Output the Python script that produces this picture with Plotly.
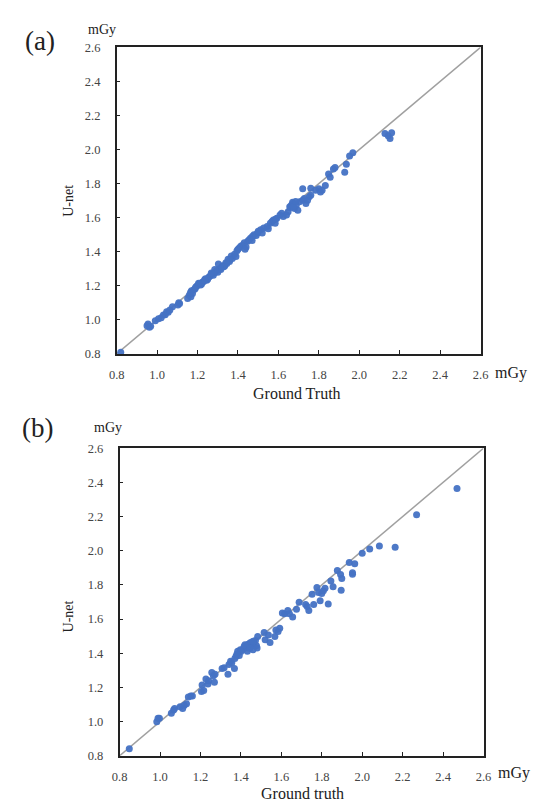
import plotly.graph_objects as go

W, H = 541, 809

# ---------------- data ----------------
a_x = [0.82, 0.955, 0.962, 0.968, 0.95,
       0.991, 1.007, 1.02, 1.031, 1.04, 1.047, 1.055, 1.063, 1.076, 1.103, 1.111, 1.107,
       1.151, 1.159, 1.167, 1.175, 1.17, 1.183, 1.191, 1.198, 1.207, 1.215, 1.223, 1.23, 1.239, 1.245,
       1.255, 1.262, 1.271, 1.278, 1.287, 1.295, 1.303, 1.31, 1.319, 1.325, 1.335, 1.34, 1.351, 1.358,
       1.367, 1.372, 1.383, 1.39, 1.4, 1.407, 1.395, 1.36, 1.345, 1.33, 1.315, 1.3, 1.285, 1.268,
       1.25, 1.235, 1.22, 1.205, 1.188, 1.165,
       1.415, 1.431, 1.448, 1.463, 1.472, 1.479, 1.496, 1.512, 1.52, 1.527, 1.544, 1.56, 1.568, 1.575,
       1.584, 1.592, 1.608, 1.616, 1.624, 1.64, 1.648, 1.656, 1.664, 1.672, 1.68, 1.688, 1.696, 1.704,
       1.72, 1.728, 1.736, 1.744, 1.752, 1.76, 1.784, 1.8, 1.808, 1.816, 1.832, 1.72, 1.76, 1.848,
       1.856, 1.872, 1.88, 1.928, 1.936, 1.952, 1.968,
       1.425, 1.44, 1.455, 1.47, 1.435, 1.49, 1.5, 1.55, 1.585, 1.66, 1.67, 1.675, 1.685,
       2.127, 2.143, 2.152, 2.16]
a_y = [0.81, 0.975, 0.956, 0.962, 0.965,
       0.994, 1.006, 1.012, 1.029, 1.03, 1.048, 1.045, 1.058, 1.077, 1.087, 1.096, 1.1,
       1.125, 1.144, 1.135, 1.154, 1.17, 1.178, 1.192, 1.2, 1.212, 1.205, 1.221, 1.225, 1.241, 1.232,
       1.25, 1.258, 1.269, 1.262, 1.279, 1.29, 1.327, 1.3, 1.308, 1.318, 1.318, 1.335, 1.356, 1.342,
       1.375, 1.36, 1.385, 1.372, 1.414, 1.423, 1.405, 1.352, 1.33, 1.312, 1.295, 1.28, 1.295, 1.275,
       1.238, 1.236, 1.21, 1.215, 1.183, 1.16,
       1.433, 1.452, 1.462, 1.481, 1.491, 1.5, 1.51, 1.529, 1.51, 1.539, 1.548, 1.567, 1.577, 1.586,
       1.567, 1.596, 1.615, 1.625, 1.606, 1.615, 1.635, 1.664, 1.673, 1.683, 1.654, 1.673, 1.644, 1.693,
       1.702, 1.712, 1.683, 1.702, 1.722, 1.731, 1.76, 1.769, 1.75, 1.76, 1.788, 1.769, 1.773, 1.856,
       1.837, 1.885, 1.895, 1.866, 1.914, 1.962, 1.981,
       1.44, 1.428, 1.47, 1.465, 1.415, 1.495, 1.52, 1.535, 1.59, 1.66, 1.69, 1.665, 1.695,
       2.094, 2.081, 2.065, 2.098]

b_x = [0.848, 0.984, 0.99, 0.997,
       1.056, 1.067, 1.072, 1.099, 1.112, 1.12, 1.131, 1.14, 1.152, 1.16,
       1.205, 1.208, 1.216, 1.227, 1.237, 1.24, 1.256, 1.264, 1.269, 1.272,
       1.307, 1.317, 1.336, 1.341, 1.349, 1.355, 1.368, 1.376, 1.384, 1.392, 1.397, 1.408, 1.416, 1.424,
       1.432, 1.44, 1.448, 1.456, 1.464, 1.472, 1.477, 1.48, 1.483, 1.432,
       1.4, 1.42, 1.445, 1.46, 1.37, 1.46, 1.38,
       1.515, 1.52, 1.536, 1.544, 1.568, 1.573, 1.584, 1.592,
       1.605, 1.616, 1.632, 1.64, 1.656, 1.675, 1.688, 1.72, 1.728, 1.736, 1.752, 1.76, 1.776, 1.784,
       1.792, 1.8, 1.808, 1.816, 1.832, 1.845, 1.856, 1.877, 1.893, 1.896, 1.899, 1.936, 1.952, 1.952,
       1.963, 2.0, 2.037, 2.085, 2.163, 2.269, 2.469]
b_y = [0.842, 1.0, 1.02, 1.02,
       1.049, 1.068, 1.077, 1.087, 1.077, 1.096, 1.104, 1.144, 1.15, 1.15,
       1.177, 1.215, 1.182, 1.249, 1.22, 1.24, 1.288, 1.269, 1.23, 1.278,
       1.311, 1.316, 1.278, 1.335, 1.354, 1.345, 1.311, 1.383, 1.412, 1.387, 1.421, 1.421, 1.44, 1.431,
       1.45, 1.456, 1.463, 1.444, 1.46, 1.475, 1.444, 1.431, 1.498, 1.412,
       1.41, 1.45, 1.43, 1.47, 1.37, 1.42, 1.395,
       1.521, 1.479, 1.507, 1.463, 1.498, 1.536, 1.527, 1.546,
       1.636, 1.632, 1.651, 1.632, 1.613, 1.657, 1.699, 1.685, 1.674, 1.651, 1.746, 1.685, 1.785, 1.756,
       1.708, 1.75, 1.766, 1.781, 1.689, 1.823, 1.789, 1.884, 1.861, 1.769, 1.838, 1.932, 1.871, 1.862,
       1.924, 1.985, 2.01, 2.028, 2.02, 2.211, 2.364]

axis_range = [0.8, 2.6]
tick_vals = [0.8, 1.0, 1.2, 1.4, 1.6, 1.8, 2.0, 2.2, 2.4, 2.6]
tick_text = ["0.8", "1.0", "1.2", "1.4", "1.6", "1.8", "2.0", "2.2", "2.4", "2.6"]

# ---------------- figure ----------------
SERIF = "Liberation Serif"
DOT = "#4472C4"


def px(x):
    return x / W


def py(y):
    return 1 - y / H


fig = go.Figure()

panels = [
    dict(x=a_x, y=a_y, xa="x", ya="y", dom_x=[px(112), px(487)], dom_y=[py(353), py(41)]),
    dict(x=b_x, y=b_y, xa="x2", ya="y2", dom_x=[px(115), px(490)], dom_y=[py(762), py(449)]),
]

for p in panels:
    fig.add_trace(go.Scatter(x=axis_range, y=axis_range, mode="lines",
                             line=dict(color="#a0a0a0", width=1.5),
                             xaxis=p["xa"], yaxis=p["ya"], showlegend=False, hoverinfo="skip"))
    fig.add_trace(go.Scatter(x=p["x"], y=p["y"], mode="markers",
                             marker=dict(color=DOT, size=7, opacity=0.95),
                             xaxis=p["xa"], yaxis=p["ya"], showlegend=False))

axis_common = dict(range=axis_range, tickvals=tick_vals, ticktext=tick_text,
                   ticks="inside", ticklen=4, tickwidth=1.2, tickcolor="#222",
                   showline=True, linecolor="#222", linewidth=1.6, mirror=True,
                   showgrid=False, zeroline=False,
                   tickfont=dict(family=SERIF, size=12.5, color="#444"))

fig.update_layout(
    width=W, height=H,
    margin=dict(l=0, r=0, t=0, b=0),
    paper_bgcolor="white", plot_bgcolor="white",
    xaxis=dict(domain=panels[0]["dom_x"], anchor="y", ticklabelstandoff=8, **axis_common),
    yaxis=dict(domain=panels[0]["dom_y"], anchor="x", ticklabelstandoff=12, **axis_common),
    xaxis2=dict(domain=panels[1]["dom_x"], anchor="y2", ticklabelstandoff=8, **axis_common),
    yaxis2=dict(domain=panels[1]["dom_y"], anchor="x2", ticklabelstandoff=12, **axis_common),
)

texts = [
    ("(a)", 33, 35, 27, 0),
    ("mGy", 97, 23, 14, 0),
    ("U-net", 62, 197, 14, -90),
    ("Ground Truth", 298, 393, 16, 0),
    ("mGy", 518, 372, 16, 0),
    ("(b)", 30, 428, 27, 0),
    ("mGy", 103, 428, 14, 0),
    ("U-net", 62, 620, 14, -90),
    ("Ground truth", 303, 800, 16, 0),
    ("mGy", 521, 779, 16, 0),
]
for t, x, y, s, ang in texts:
    fig.add_annotation(text=t, x=px(x), y=py(y), xref="paper", yref="paper",
                       showarrow=False, xanchor="center", yanchor="middle", textangle=ang,
                       font=dict(family=SERIF, size=s, color="#222"))

fig.write_html("out.html")
